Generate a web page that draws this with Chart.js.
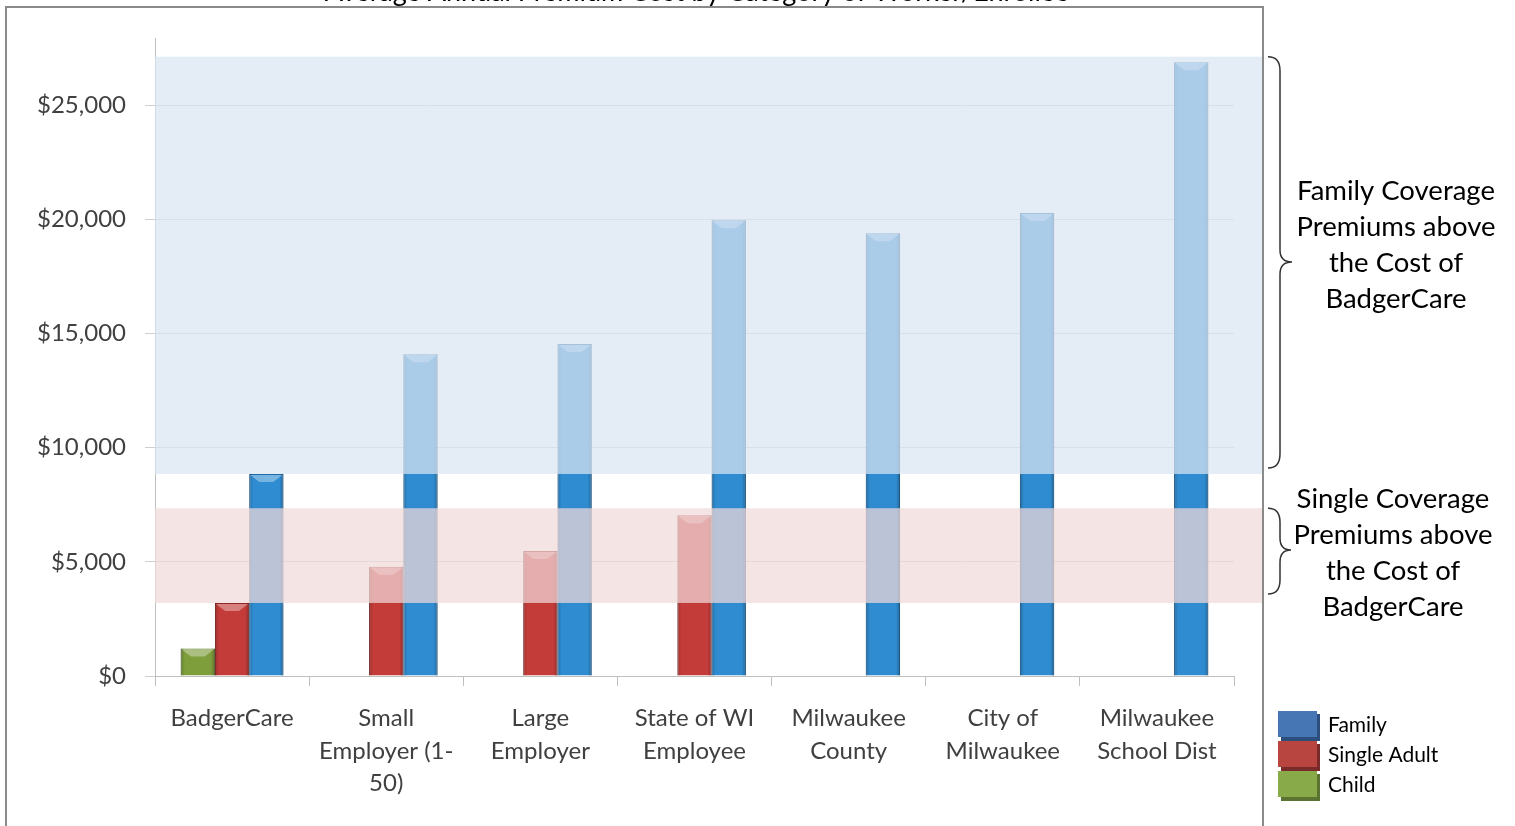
<!DOCTYPE html>
<html>
<head>
<meta charset="utf-8">
<script src="https://cdn.jsdelivr.net/npm/chart.js@4.4.0/dist/chart.umd.min.js"></script>
<style>
  html, body { margin: 0; padding: 0; background: #ffffff; }
  #wrap { width: 1515px; height: 826px; position: relative; }
</style>
</head>
<body>
<div id="wrap"><canvas id="c" width="1515" height="826"></canvas></div>
<script>
// ---- data ----
const chartTitle = 'Average Annual Premium Cost by Category of Worker/Enrollee';
const categories = [
  'BadgerCare',
  ['Small', 'Employer (1-', '50)'],
  ['Large', 'Employer'],
  ['State of WI', 'Employee'],
  ['Milwaukee', 'County'],
  ['City of', 'Milwaukee'],
  ['Milwaukee', 'School Dist']
];
const seriesNames = ['Child', 'Single Adult', 'Family'];
const childPremium  = [1200, null, null, null, null, null, null];
const singlePremium = [3200, 4790, 5480, 7040, null, null, null];
const familyPremium = [8850, 14100, 14540, 19970, 19400, 20280, 26890];
const yTickValues = [0, 5000, 10000, 15000, 20000, 25000];
const yMax = 27950;
// shaded ranges: from the BadgerCare cost up to the highest premium
const familyBandTop = 27130;
const singleBandTop = 7350;
const familyNote = ['Family Coverage', 'Premiums above', 'the Cost of', 'BadgerCare'];
const singleNote = ['Single Coverage', 'Premiums above', 'the Cost of', 'BadgerCare'];

const FONT = 'Lato, "Open Sans", sans-serif';
const barColors  = ['#7E9E3C', '#C43C3A', '#2F8CD1'];
const barBorders = ['#5E7A2A', '#8E2826', '#1F6AA5'];
const legendColors = ['#88AA48', '#B8453F', '#4676B4'];
const legendShadows = ['#5B7330', '#7A2A28', '#2C4E7C'];

const fmt = v => '$' + v.toLocaleString('en-US');

const decorPlugin = {
  id: 'decor',
  beforeDraw(chart) {
    const ctx = chart.ctx;
    ctx.save();
    // title (cut off at the top of the picture)
    ctx.font = '27px ' + FONT;
    ctx.fillStyle = '#000';
    ctx.textAlign = 'center';
    ctx.textBaseline = 'alphabetic';
    ctx.fillText(chartTitle, 697, 1);
    // frame
    ctx.strokeStyle = '#8a8a8a';
    ctx.lineWidth = 2;
    ctx.beginPath();
    ctx.moveTo(6, 830);
    ctx.lineTo(6, 7);
    ctx.lineTo(1263, 7);
    ctx.lineTo(1263, 830);
    ctx.stroke();
    ctx.restore();
  },
  afterDatasetsDraw(chart) {
    const ctx = chart.ctx;
    const y = chart.scales.y;
    const area = chart.chartArea;
    ctx.save();
    // bevel shading on bars
    chart.data.datasets.forEach((ds, di) => {
      const meta = chart.getDatasetMeta(di);
      meta.data.forEach((bar, i) => {
        if (ds.data[i] == null) return;
        const l = bar.x - bar.width / 2, r = bar.x + bar.width / 2;
        const t = bar.y, b = bar.base;
        const g = ctx.createLinearGradient(l, 0, r, 0);
        g.addColorStop(0, 'rgba(0,0,0,0.22)');
        g.addColorStop(0.12, 'rgba(0,0,0,0)');
        g.addColorStop(0.88, 'rgba(0,0,0,0)');
        g.addColorStop(1, 'rgba(0,0,0,0.28)');
        ctx.fillStyle = g;
        ctx.fillRect(l, t, r - l, b - t);
        ctx.fillStyle = 'rgba(255,255,255,0.35)';
        ctx.beginPath();
        ctx.moveTo(l + 1, t + 1);
        ctx.lineTo(r - 1, t + 1);
        ctx.lineTo(r - bar.width * 0.3, t + 8);
        ctx.lineTo(l + bar.width * 0.3, t + 8);
        ctx.closePath();
        ctx.fill();
      });
    });
    // translucent bands
    const bandRight = 1262;
    const fTop = y.getPixelForValue(familyBandTop), fBot = y.getPixelForValue(familyPremium[0]);
    const sTop = y.getPixelForValue(singleBandTop), sBot = y.getPixelForValue(singlePremium[0]);
    ctx.fillStyle = 'rgba(217,229,242,0.72)';
    ctx.fillRect(area.left, fTop, bandRight - area.left, fBot - fTop);
    ctx.fillStyle = 'rgba(241,217,217,0.72)';
    ctx.fillRect(area.left, sTop, bandRight - area.left, sBot - sTop);

    // braces
    const brace = (x0, top, bot, tipY, depth) => {
      const xm = x0 + 12, xt = x0 + depth;
      ctx.beginPath();
      ctx.moveTo(x0, top);
      ctx.quadraticCurveTo(xm, top, xm, top + 14);
      ctx.lineTo(xm, tipY - 12);
      ctx.quadraticCurveTo(xm, tipY, xt, tipY);
      ctx.quadraticCurveTo(xm, tipY, xm, tipY + 12);
      ctx.lineTo(xm, bot - 14);
      ctx.quadraticCurveTo(xm, bot, x0, bot);
      ctx.stroke();
    };
    ctx.strokeStyle = '#333';
    ctx.lineWidth = 1.5;
    brace(1268, fTop, fBot - 6, 262, 24);
    brace(1268, sTop, sBot - 9, 550, 23);

    // notes
    ctx.font = '27.5px ' + FONT;
    ctx.fillStyle = '#000';
    ctx.textAlign = 'center';
    ctx.textBaseline = 'middle';
    familyNote.forEach((s, i) => ctx.fillText(s, 1396, 191 + i * 36));
    singleNote.forEach((s, i) => ctx.fillText(s, 1393, 499 + i * 36));

    // legend (reverse order: Family, Single Adult, Child)
    ctx.font = '21px ' + FONT;
    ctx.textAlign = 'left';
    const order = [2, 1, 0];
    order.forEach((di, k) => {
      const by = 711 + k * 30;
      ctx.fillStyle = legendShadows[di];
      ctx.fillRect(1281, by + 3, 39, 27);
      ctx.fillStyle = legendColors[di];
      ctx.fillRect(1278, by, 39, 26);
      ctx.fillStyle = '#000';
      ctx.fillText(chart.data.datasets[di].label, 1328, by + 14);
    });
    ctx.restore();
  }
};

new Chart(document.getElementById('c'), {
  type: 'bar',
  data: {
    labels: categories,
    datasets: [
      { label: seriesNames[0], data: childPremium,  backgroundColor: barColors[0], borderColor: barBorders[0], borderWidth: 1 },
      { label: seriesNames[1], data: singlePremium, backgroundColor: barColors[1], borderColor: barBorders[1], borderWidth: 1 },
      { label: seriesNames[2], data: familyPremium, backgroundColor: barColors[2], borderColor: barBorders[2], borderWidth: 1 }
    ]
  },
  options: {
    responsive: false,
    animation: false,
    devicePixelRatio: 1,
    layout: { padding: { top: 38, right: 281, bottom: 0, left: 0 } },
    datasets: { bar: { categoryPercentage: 0.667, barPercentage: 1.0 } },
    plugins: {
      legend: { display: false },
      title: { display: false },
      tooltip: { enabled: false }
    },
    scales: {
      x: {
        grid: { drawOnChartArea: false, drawTicks: true, tickLength: 10, color: '#bfbfbf', offset: true },
        border: { color: '#bfbfbf', width: 1 },
        ticks: { color: '#404040', font: { family: FONT, size: 24, lineHeight: 1.36 }, padding: 16, maxRotation: 0, autoSkip: false },
        afterFit(s) { s.height = 150; }
      },
      y: {
        min: 0,
        max: yMax,
        afterBuildTicks(s) { s.ticks = yTickValues.map(v => ({ value: v })); },
        grid: { color: '#cfcfcf', tickLength: 10, drawTicks: true },
        border: { color: '#bfbfbf', width: 1 },
        ticks: { color: '#404040', font: { family: FONT, size: 24 }, padding: 19, callback: v => fmt(v) },
        afterFit(s) { s.width = 155; }
      }
    }
  },
  plugins: [decorPlugin]
});
</script>
</body>
</html>
